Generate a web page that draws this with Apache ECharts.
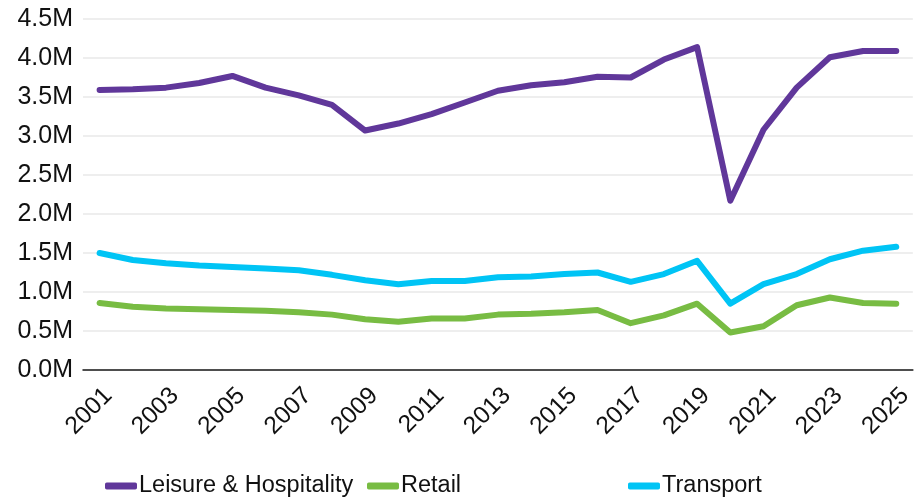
<!DOCTYPE html>
<html>
<head>
<meta charset="utf-8">
<script src="https://cdn.jsdelivr.net/npm/echarts@6/dist/echarts.min.js"></script>
<style>
html,body{margin:0;padding:0;background:#fff;}
#chart{width:916px;height:498px;}
</style>
</head>
<body>
<div id="chart"></div>
<script>
const years = ['2001','2002','2003','2004','2005','2006','2007','2008','2009','2010','2011','2012','2013','2014','2015','2016','2017','2018','2019','2020','2021','2022','2023','2024','2025'];
const leisure = [3.59,3.60,3.62,3.68,3.77,3.62,3.52,3.40,3.07,3.16,3.28,3.43,3.58,3.65,3.69,3.76,3.75,3.98,4.14,2.17,3.08,3.62,4.01,4.09,4.09];
const retail = [0.86,0.81,0.79,0.78,0.77,0.76,0.74,0.71,0.65,0.62,0.66,0.66,0.71,0.72,0.74,0.77,0.60,0.70,0.85,0.48,0.56,0.83,0.93,0.86,0.85];
const transport = [1.50,1.41,1.37,1.34,1.32,1.30,1.28,1.22,1.15,1.10,1.14,1.14,1.19,1.20,1.23,1.25,1.13,1.23,1.40,0.85,1.10,1.23,1.42,1.53,1.58];
const seriesNames = ['Leisure & Hospitality','Retail','Transport'];
const colors = ['#60379A','#78BC43','#00C4F5'];
const yTicks = {min:0, max:4.5, interval:0.5};

const chart = echarts.init(document.getElementById('chart'));
const font = 'Liberation Sans, Arial, sans-serif';
function legendAt(i, left) {
  return {
    data: [seriesNames[i]],
    left: left, top: 474,
    icon: 'roundRect', itemWidth: 32, itemHeight: 7, itemGap: 0,
    textStyle: {fontFamily: font, fontSize: 23.5, color: '#111', padding:[0,0,0,-3]},
    padding: 0
  };
}
const dataArr = [leisure, retail, transport];
chart.setOption({
  animation: false,
  backgroundColor: '#fff',
  grid: {left: 83, right: 0, top: 19, bottom: 128, containLabel: false},
  legend: [legendAt(0, 105), legendAt(1, 367), legendAt(2, 628)],
  xAxis: {
    type: 'category', data: years, boundaryGap: true,
    axisLine: {lineStyle: {color: '#1a1a1a', width: 1.5}},
    axisTick: {show: false},
    axisLabel: {interval: 1, rotate: 45, fontFamily: font, fontSize: 24.5, color: '#111', margin: 13, verticalAlign: 'top'}
  },
  yAxis: {
    type: 'value', min: yTicks.min, max: yTicks.max, interval: yTicks.interval,
    axisLine: {show: false}, axisTick: {show: false},
    axisLabel: {fontFamily: font, fontSize: 25, color: '#111', margin: 10,
      formatter: v => v.toFixed(1) + 'M'},
    splitLine: {lineStyle: {color: '#e9e9e9', width: 1.5}}
  },
  series: dataArr.map((d, i) => ({
    name: seriesNames[i], type: 'line', data: d, symbol: 'none', smooth: false,
    itemStyle: {color: colors[i]},
    lineStyle: {color: colors[i], width: 6, cap: 'round', join: 'round'}
  }))
});
</script>
</body>
</html>
